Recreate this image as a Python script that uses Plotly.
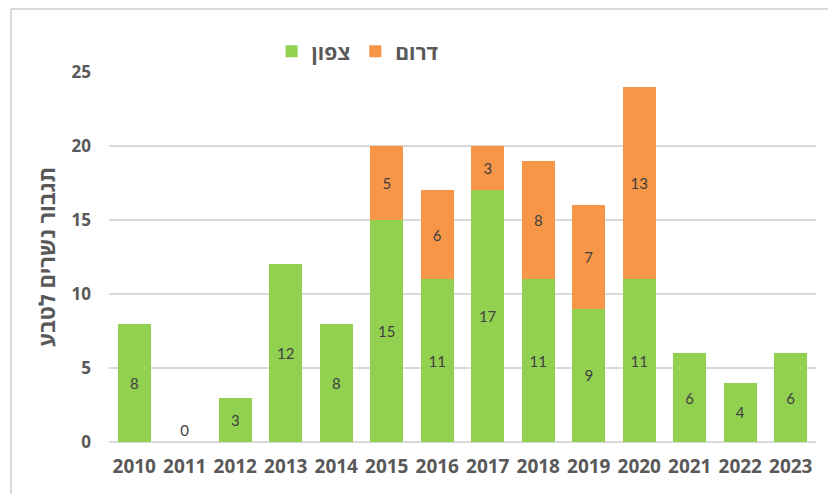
import plotly.graph_objects as go

years = ["2010", "2011", "2012", "2013", "2014", "2015", "2016", "2017", "2018", "2019", "2020", "2021", "2022", "2023"]
north = [8, 0, 3, 12, 8, 15, 11, 17, 11, 9, 11, 6, 4, 6]
south = [None, None, None, None, None, 5, 6, 3, 8, 7, 13, None, None, None]
name_north = "צפון"
name_south = "דרום"
y_title = "תגבור נשרים לטבע"
y_ticks = [0, 5, 10, 15, 20, 25]

label_font = dict(family="Lato, 'Open Sans', sans-serif", size=15, color="#404040")
bold_font = "'Open Sans', sans-serif"

fig = go.Figure()
fig.add_trace(go.Bar(
    x=years, y=north, name=name_north,
    marker=dict(color="#92D050", line=dict(width=0)),
    text=[str(v) for v in north],
    textposition=["outside" if v == 0 else "inside" for v in north],
    insidetextanchor="middle",
    textfont=label_font, outsidetextfont=label_font, insidetextfont=label_font,
    cliponaxis=False,
))
fig.add_trace(go.Bar(
    x=years, y=south, name=name_south,
    marker=dict(color="#F79646", line=dict(width=0)),
    text=[str(v) if v is not None else "" for v in south],
    textposition="inside",
    insidetextanchor="middle",
    textfont=label_font, insidetextfont=label_font,
))

fig.update_layout(
    barmode="stack",
    bargap=0.34,
    width=836, height=494,
    margin=dict(l=101, r=28, t=64, b=60, autoexpand=False),
    plot_bgcolor="white", paper_bgcolor="white",
    font=dict(family=bold_font, color="#595959"),
    legend=dict(orientation="h", x=0.23, xanchor="left", y=1.055, yanchor="middle",
                font=dict(size=21, color="#595959", family=bold_font, weight="bold"),
                itemwidth=30, traceorder="normal"),
    xaxis=dict(showline=False, ticks="", automargin=False, ticklabelstandoff=11,
               tickfont=dict(size=19, color="#595959", family=bold_font, weight="bold")),
    yaxis=dict(range=[0, 25], tickvals=y_ticks, showgrid=True, gridcolor="#D9D9D9", gridwidth=1.5,
               zeroline=True, zerolinecolor="#D9D9D9", zerolinewidth=1.5, automargin=False,
               tickfont=dict(size=17, color="#595959", family=bold_font, weight="bold"),
               ticklabelstandoff=17,
               title=dict(text=y_title, standoff=9,
                          font=dict(size=22, color="#595959", family=bold_font, weight="bold"))),
    shapes=[
        dict(type="line", xref="paper", yref="paper", x0=-0.1386, x1=1.1, y0=1.17, y1=1.17,
             line=dict(color="#D9D9D9", width=2)),
        dict(type="line", xref="paper", yref="paper", x0=-0.1386, x1=-0.1386, y0=1.17, y1=-0.25,
             line=dict(color="#D9D9D9", width=2)),
    ],
)

fig.write_html("out.html")
